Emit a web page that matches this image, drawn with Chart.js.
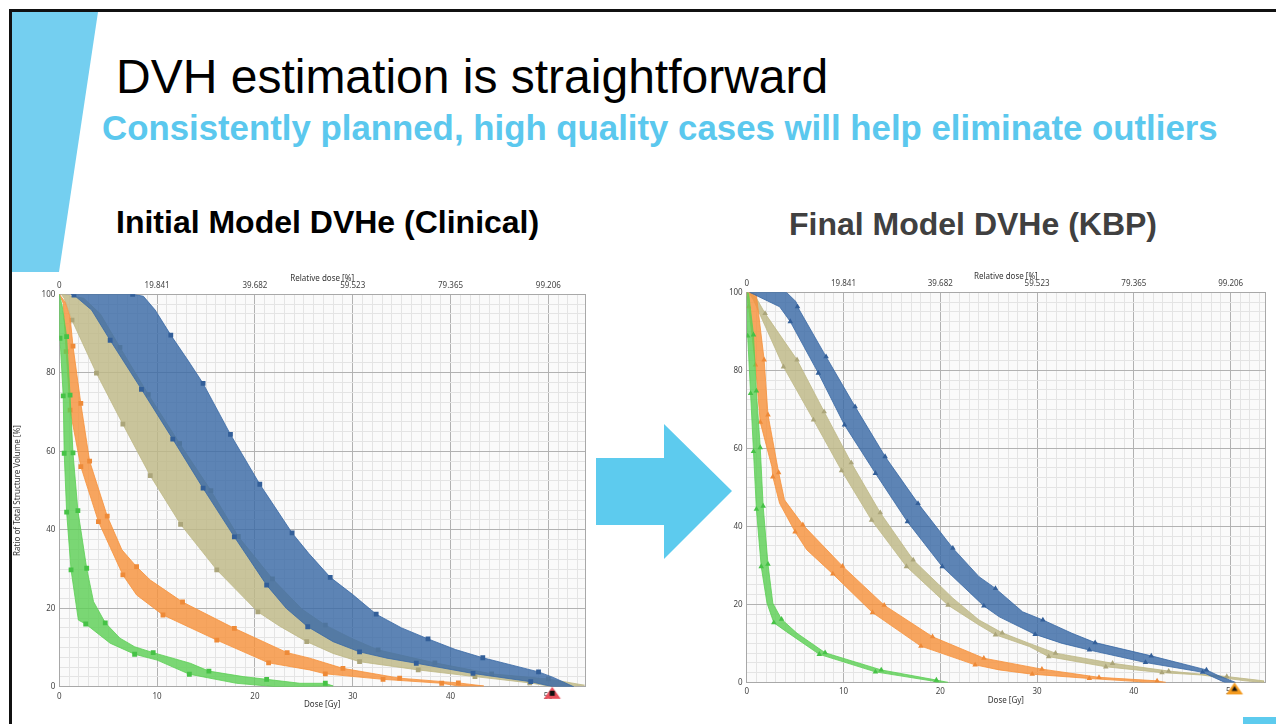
<!DOCTYPE html>
<html>
<head>
<meta charset="utf-8">
<script src="https://cdn.jsdelivr.net/npm/chart.js@4.4.1/dist/chart.umd.min.js"></script>
<style>
  html, body { margin: 0; padding: 0; background: #fff; }
  body { width: 1276px; height: 724px; position: relative; overflow: hidden;
         font-family: "Liberation Sans", Arial, sans-serif; }
  .abs { position: absolute; white-space: nowrap; line-height: 1; }
  canvas { position: absolute; }
</style>
</head>
<body>
<!-- slide frame and accent shapes -->
<div class="abs" style="left:9px;top:9px;width:1267px;height:3px;background:#111"></div>
<div class="abs" style="left:9px;top:9px;width:3px;height:715px;background:#111"></div>
<div class="abs" style="left:12px;top:12px;width:86px;height:260px;background:#74CFF0;clip-path:polygon(0 0,86px 0,47px 260px,0 260px)"></div>
<div class="abs" style="left:1243px;top:717px;width:33px;height:7px;background:#5DCBEE"></div>

<div class="abs" style="left:116px;top:53px;font-size:48px;color:#000">DVH estimation is straightforward</div>
<div class="abs" style="left:102px;top:111px;font-size:34.8px;font-weight:bold;color:#5BC8EE">Consistently planned, high quality cases will help eliminate outliers</div>
<div class="abs" style="left:116px;top:206px;font-size:32px;font-weight:bold;color:#000">Initial Model DVHe (Clinical)</div>
<div class="abs" style="left:789px;top:208px;font-size:32px;font-weight:bold;color:#404040">Final Model DVHe (KBP)</div>

<canvas id="clinical" width="590" height="458" style="left:12px;top:262px"></canvas>
<canvas id="kbp" width="576" height="462" style="left:700px;top:258px"></canvas>

<div class="abs" style="left:596px;top:424px;width:136px;height:135px;background:#5DCBEE;clip-path:polygon(0 34px,68px 34px,68px 0,136px 67px,68px 135px,68px 101px,0 101px)"></div>

<script>
// ---------- axis labels ----------
const doseTickLabels = ['0', '10', '20', '30', '40', '50'];
const relDoseTickLabels = ['0', '19.841', '39.682', '59.523', '79.365', '99.206'];
const volumeTickLabels = ['0', '20', '40', '60', '80', '100'];
const prescribedDose = 50.4;   // Gy

// ---------- DVH estimate bands: [dose Gy, volume %, marker shown] ----------
// Initial model (clinical plans)
const clinBlueHigh = [[1.2,100,0],[7.5,100,1],[8.6,99.5,0],[9.8,96,0],[11.4,89.6,1],[13.2,83,0],[14.7,77.3,1],[17.5,64.3,1],[20.5,51.6,1],[23.8,39.2,1],[25.5,34,0],[27.7,27.9,1],[30,23.5,0],[32.4,18.5,1],[35,15,0],[37.7,12.2,1],[40.5,9.5,0],[43.3,7.4,1],[46,5.7,0],[49.0,3.8,1],[50.5,2.4,0],[52.6,0,0]];
const clinBlueLow = [[1.2,100,0],[1.5,99.8,1],[3.3,96,0],[5.2,88.3,1],[8.4,75.8,1],[11.6,63.1,1],[14.7,50.6,1],[17.9,38.2,1],[21.2,25.9,1],[23.2,20,0],[25.4,15.3,1],[28,11.5,0],[30.7,8.9,1],[33.5,7.3,0],[36.5,6.0,1],[42.3,3.4,1],[48.2,1.3,1],[50.5,0,0]];
const clinKhakiHigh = [[0.3,100,0],[2.5,99,0],[4.2,95,0],[6.2,86.5,1],[9.1,74.5,1],[12.3,62,1],[15.5,50,1],[18.3,38.3,1],[21.8,27.5,1],[24.8,19.8,0],[27.2,15.7,1],[30,12.2,0],[32.6,9.4,1],[38.4,6.1,1],[44.2,3.3,1],[50,2.0,1],[53.7,0.4,0]];
const clinKhakiLow = [[0.2,100,0],[0.5,99,0],[1.3,93.4,1],[3.8,79.9,1],[6.5,66.9,1],[9.3,53.8,1],[12.4,41.4,1],[16.1,29.8,1],[20.3,19.1,1],[22.5,15.5,0],[25.3,11.5,1],[28,8.5,0],[30.7,6.4,1],[36.7,4.3,1],[42.5,2.6,1],[48.1,1.0,1],[50.5,0,0]];
const clinOrangeHigh = [[0,100,0],[0.6,98,0],[1.1,94.3,0],[1.4,86.8,1],[2.2,72.2,1],[3.1,57.5,1],[4.9,43.5,1],[6.4,34.9,0],[7.9,30.6,1],[9.3,27.2,0],[12.6,21.6,1],[17.9,14.9,1],[23.3,8.7,1],[25.6,7.3,0],[29.0,4.7,1],[34.8,2.2,1],[40.8,1.0,1],[43.4,0.2,0]];
const clinOrangeLow = [[0,100,0],[0.4,97.7,0],[0.7,85.4,1],[1.1,70.5,1],[2.2,56.1,1],[4.0,42.1,1],[6.5,28.5,1],[7.9,23.4,0],[10.6,18.3,1],[16.1,11.9,1],[21.4,6.1,1],[25.6,4.3,0],[27.2,3.3,1],[33.1,1.9,1],[39.1,0.9,1],[40.8,0.2,0]];
const clinGreenHigh = [[0,100,0],[0.3,97,0],[0.75,89.2,1],[1.1,74.3,1],[1.4,59.6,1],[1.9,44.9,1],[2.8,30.2,1],[3.5,21.7,0],[4.7,16.3,1],[6.2,12.4,0],[7.7,10.2,0],[9.6,8.7,1],[13.4,6.0,0],[15.3,4.0,1],[18.8,2.6,0],[21.2,1.9,1],[24.6,0.9,0],[27.2,0.9,1],[28.0,0.2,0]];
const clinGreenLow = [[0,100,0],[0.07,88.8,1],[0.4,74.1,1],[0.5,59.5,1],[0.75,44.5,1],[1.2,29.8,1],[1.95,17.0,0],[2.7,16.0,1],[5.2,11.1,0],[7.7,8.3,1],[10.0,6.8,0],[13.3,3.2,1],[18.1,0.9,0],[22.2,0,0]];

// Final model (knowledge-based plans)
const kbpBlueHigh = [[0.3,100,0],[4.1,100,0],[5.1,97.6,0],[5.25,96.3,1],[8.2,83.5,1],[11.2,70.7,1],[13.7,60.4,0],[14.3,57.9,1],[17.7,45.9,1],[21.3,34.4,1],[24.0,27.1,0],[25.7,24.1,1],[28.5,18.1,0],[30.6,16.0,1],[33.6,12.6,0],[36.0,10.2,1],[41.8,6.8,1],[47.5,3.2,1],[48.6,1.9,0],[50.5,0,0]];
const kbpBlueLow = [[0.3,100,0],[3.4,96.3,0],[4.5,92.5,1],[7.4,79.3,1],[10.1,66.0,1],[13.3,53.6,1],[16.6,41.2,1],[20.2,29.7,1],[24.5,19.6,1],[26.1,16.8,0],[29.8,12.3,1],[32.6,10.0,0],[35.4,8.3,1],[41.2,5.1,1],[47.1,2.6,1],[49.4,0,0]];
const kbpKhakiHigh = [[0.3,100,0],[1.0,98.5,0],[1.9,94.6,1],[5.2,82.7,1],[8.0,69.4,1],[10.8,56.3,1],[13.8,43.5,1],[17.2,31.4,1],[21.3,21.6,0],[24.0,16.0,0],[26.4,12.7,1],[29.2,10.0,0],[31.9,7.5,1],[37.8,4.9,1],[43.6,2.9,1],[49.6,1.5,1],[53.4,0.4,0]];
const kbpKhakiLow = [[0.3,99.7,0],[0.7,98,0],[3.8,80.9,1],[6.9,67.3,1],[9.8,54.3,1],[12.9,41.6,1],[16.5,29.7,1],[20.8,19.8,1],[24.0,14.7,0],[25.7,12.2,1],[29.2,9.2,0],[31.2,6.6,1],[37.1,4.0,1],[42.9,2.5,1],[47.0,1.9,0],[51.5,0.4,0],[53.4,0,0]];
const kbpOrangeHigh = [[0.3,100,0],[1.0,99.3,0],[1.8,82.7,1],[2.2,68.6,1],[3.3,53.8,1],[3.9,46.8,0],[5.8,40.4,1],[9.9,29.8,1],[14.2,19.8,1],[19.2,11.7,1],[24.5,6.2,1],[30.5,3.4,1],[36.4,1.3,1],[42.4,0.4,1],[43.3,0,0]];
const kbpOrangeLow = [[0,100,0],[0.2,96.3,1],[0.9,81.4,1],[1.4,66.7,1],[2.6,55.3,0],[2.7,52.7,1],[3.4,45.9,0],[5.0,38.6,1],[6.2,34.0,0],[8.9,27.8,1],[13.0,17.9,1],[18.0,9.3,1],[23.6,4.5,1],[26.1,3.2,0],[29.5,2.1,1],[35.4,1.0,1],[40.5,0.2,0],[40.8,0,0]];
const kbpGreenHigh = [[0,100,0],[0.2,99.7,0],[0.7,89.1,1],[1.0,74.7,1],[1.4,60.2,1],[1.7,45.2,1],[2.2,30.3,1],[2.7,20.3,0],[3.6,16.2,1],[5.2,12.6,0],[8.1,7.6,1],[13.9,3.2,1],[19.6,0.6,1],[20.8,0,0]];
const kbpGreenLow = [[0,98.9,0],[0.1,88.8,1],[0.4,74.1,1],[0.7,59.2,1],[1.0,44.4,1],[1.5,29.7,1],[2.1,20.3,0],[2.8,15.3,1],[4.1,13.0,0],[7.5,7.2,1],[13.3,2.7,1],[19.2,0.35,0],[19.6,0,0]];

// ---------- styling ----------
const FILL = {
  blue: 'rgba(58,106,166,0.82)', khaki: 'rgba(190,184,134,0.82)',
  orange: 'rgba(247,147,61,0.82)', green: 'rgba(94,207,87,0.82)'
};
const MARK = { blue: '#335F99', khaki: '#ABA57A', orange: '#EE8A38', green: '#46C246' };
const AXIS_FONT = '"Noto Sans", "Open Sans", sans-serif';

Chart.defaults.font.family = AXIS_FONT;
Chart.defaults.color = '#444';

// grid positions: minor every 1 Gy / 2.5 %, labelled every 10 Gy / 20 %
const doseGrid = []; for (let g = 0; g <= 53; g++) doseGrid.push(g);
const volumeGrid = []; for (let i = 0; i <= 40; i++) volumeGrid.push(i * 2.5);

function band(high, low, color, style) {
  return {
    data: high.concat(low.slice().reverse()),
    showLine: true, fill: 'shape', tension: 0,
    backgroundColor: FILL[color], borderColor: FILL[color], borderWidth: 1,
    pointStyle: style,
    pointRadius: c => (c.raw && c.raw[2]) ? (style === 'rect' ? 3.4 : 3.2) : 0,
    pointHoverRadius: 0,
    pointBackgroundColor: MARK[color], pointBorderWidth: 0
  };
}

// prescription marker image: triangle hanging just below the dose axis
function rxMarker(fill, inner) {
  const c = document.createElement('canvas');
  c.width = 20; c.height = 28;
  const g = c.getContext('2d');
  g.beginPath(); g.moveTo(10, 14); g.lineTo(18.5, 26); g.lineTo(1.5, 26); g.closePath();
  g.fillStyle = fill; g.fill();
  g.fillStyle = '#111';
  if (inner === 'square') { g.fillRect(7.5, 18, 5, 5); }
  else { g.beginPath(); g.moveTo(10, 17.5); g.lineTo(13, 22.5); g.lineTo(7, 22.5); g.closePath(); g.fill(); }
  return c;
}

const plotFrame = {
  id: 'plotFrame',
  beforeDraw(chart) {
    const a = chart.chartArea, ctx = chart.ctx;
    ctx.save(); ctx.fillStyle = '#FAFAFA';
    ctx.fillRect(a.left, a.top, a.right - a.left, a.bottom - a.top); ctx.restore();
  },
  afterDatasetsDraw(chart) {
    const a = chart.chartArea, ctx = chart.ctx;
    ctx.save(); ctx.strokeStyle = '#A8A8A8'; ctx.lineWidth = 1;
    ctx.beginPath(); ctx.moveTo(Math.round(a.right) + 0.5, a.top); ctx.lineTo(Math.round(a.right) + 0.5, a.bottom); ctx.stroke();
    ctx.restore();
  }
};

function buildChart(id, g, sets, marker) {
  const tickFont = { family: AXIS_FONT, size: 8 };
  const titleFont = { family: AXIS_FONT, size: 8 };
  const datasets = [{
    data: [[prescribedDose, 0]], pointStyle: marker, pointRadius: 10, pointHoverRadius: 10, clip: false
  }].concat(sets);
  return new Chart(document.getElementById(id), {
    type: 'scatter',
    data: { datasets },
    plugins: [plotFrame],
    options: {
      responsive: false, animation: false, devicePixelRatio: 1,
      layout: { padding: { left: 0, top: 0, bottom: 0, right: g.w - g.right } },
      plugins: { legend: { display: false }, tooltip: { enabled: false } },
      scales: {
        x: {
          type: 'linear', position: 'bottom', min: 0, max: g.doseMax,
          afterBuildTicks: s => { s.ticks = doseGrid.map(v => ({ value: v })); },
          afterFit: s => { s.height = g.h - g.bottom; s.paddingLeft = 0; s.paddingRight = 0; },
          grid: { drawTicks: false, color: c => (c.tick && c.tick.value % 10 === 0) ? '#B2B2B2' : '#E4E4E4' },
          border: { color: '#A8A8A8' },
          ticks: { autoSkip: false, maxRotation: 0, padding: g.xPad, font: tickFont, color: '#444',
                   callback: v => v % 10 === 0 ? doseTickLabels[v / 10] : '' },
          title: { display: true, text: 'Dose [Gy]', color: '#333', font: titleFont,
                   padding: { top: 0, bottom: g.xTitlePad } }
        },
        x2: {
          type: 'linear', position: 'top', min: 0, max: g.doseMax,
          afterBuildTicks: s => { s.ticks = doseGrid.map(v => ({ value: v })); },
          afterFit: s => { s.height = g.top; s.paddingLeft = 0; s.paddingRight = 0; },
          grid: { display: false, drawTicks: false },
          border: { display: true, color: '#A8A8A8' },
          ticks: { autoSkip: false, maxRotation: 0, padding: 3.3, font: tickFont, color: '#444',
                   callback: v => v % 10 === 0 ? relDoseTickLabels[v / 10] : '' },
          title: { display: true, text: 'Relative dose [%]', color: '#333', font: titleFont,
                   padding: { top: g.topTitlePad, bottom: 0 } }
        },
        y: {
          type: 'linear', position: 'left', min: 0, max: 100,
          afterBuildTicks: s => { s.ticks = volumeGrid.map(v => ({ value: v })); },
          afterFit: s => { s.width = g.left; s.paddingTop = 0; s.paddingBottom = 0; },
          grid: { drawTicks: false, color: c => (c.tick && c.tick.value % 20 === 0) ? '#B2B2B2' : '#E4E4E4' },
          border: { color: '#A8A8A8' },
          ticks: { autoSkip: false, padding: 4, font: tickFont, color: '#444',
                   callback: v => v % 20 === 0 ? volumeTickLabels[v / 20] : '' },
          title: { display: g.yTitle, text: 'Ratio of Total Structure Volume [%]', color: '#333',
                   font: titleFont, padding: { top: 1.2, bottom: 0 } }
        }
      }
    }
  });
}

buildChart('clinical',
  { w: 590, h: 458, left: 47.3, right: 573, top: 32.3, bottom: 424.8, doseMax: 53.75,
    xPad: 5.5, xTitlePad: 10.2, topTitlePad: 11.7, yTitle: true },
  [band(clinBlueHigh, clinBlueLow, 'blue', 'rect'),
   band(clinGreenHigh, clinGreenLow, 'green', 'rect'),
   band(clinOrangeHigh, clinOrangeLow, 'orange', 'rect'),
   band(clinKhakiHigh, clinKhakiLow, 'khaki', 'rect')],
  rxMarker('#E8505C', 'square'));

buildChart('kbp',
  { w: 576, h: 462, left: 46.7, right: 566.7, top: 34.3, bottom: 424.4, doseMax: 53.55,
    xPad: 5, xTitlePad: 14.4, topTitlePad: 13.5, yTitle: false },
  [band(kbpBlueHigh, kbpBlueLow, 'blue', 'triangle'),
   band(kbpGreenHigh, kbpGreenLow, 'green', 'triangle'),
   band(kbpOrangeHigh, kbpOrangeLow, 'orange', 'triangle'),
   band(kbpKhakiHigh, kbpKhakiLow, 'khaki', 'triangle')],
  rxMarker('#F39A1E', 'triangle'));
</script>
</body>
</html>
